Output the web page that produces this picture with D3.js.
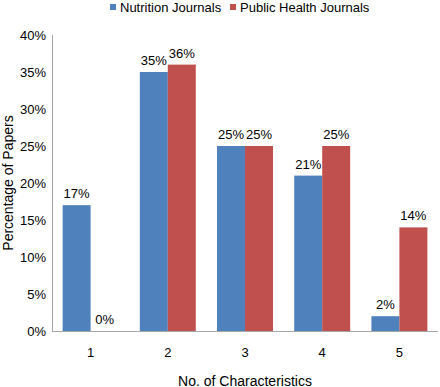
<!DOCTYPE html>
<html>
<head>
<meta charset="utf-8">
<script src="https://cdn.jsdelivr.net/npm/d3@7"></script>
<style>
  body { margin: 0; background: #fff; }
  text { font-family: "Liberation Sans", Arial, sans-serif; fill: #000; }
</style>
</head>
<body>
<div id="wrapper"></div>
<script>
  // DATA
  const categories = ["1", "2", "3", "4", "5"]
  const seriesNames = ["Nutrition Journals", "Public Health Journals"]
  const nutrition = [17, 35, 25, 21, 2]
  const publicHealth = [0, 36, 25, 25, 14]
  const yTicks = [0, 5, 10, 15, 20, 25, 30, 35, 40]
  const colors = ["#4F81BD", "#C0504D"]

  const dataset = categories.map((c, i) => ({ cat: c, values: [nutrition[i], publicHealth[i]] }))

  // DIMENSIONS
  let dimensions = {
    width: 440,
    height: 387,
    margin: { top: 35, right: 2, bottom: 56, left: 52 }
  }
  dimensions.boundedWidth = dimensions.width - dimensions.margin.left - dimensions.margin.right
  dimensions.boundedHeight = dimensions.height - dimensions.margin.top - dimensions.margin.bottom

  const wrapper = d3.select("#wrapper").append("svg")
    .attr("width", dimensions.width)
    .attr("height", dimensions.height)

  const bounds = wrapper.append("g")
    .attr("transform", `translate(${dimensions.margin.left},${dimensions.margin.top})`)

  // SCALES
  const xScale = d3.scaleBand()
    .domain(categories)
    .range([0, dimensions.boundedWidth])
    .paddingInner(0.275)
    .paddingOuter(0.1375)

  const xSub = d3.scaleBand()
    .domain([0, 1])
    .range([0, xScale.bandwidth()])

  const yScale = d3.scaleLinear()
    .domain([0, 40])
    .range([dimensions.boundedHeight, 0])

  // AXES
  const yAxis = bounds.append("g")
    .call(d3.axisLeft(yScale).tickValues(yTicks).tickSize(0).tickPadding(6).tickFormat(d => d + "%"))
  yAxis.select(".domain").attr("stroke", "#a6a6a6").attr("d", `M0.5,0V${dimensions.boundedHeight}`)
  yAxis.selectAll(".tick text").style("font-size", "13px").attr("fill", "#000")

  const xAxis = bounds.append("g")
    .attr("transform", `translate(0,${dimensions.boundedHeight})`)
    .call(d3.axisBottom(xScale).tickSize(0).tickPadding(17))
  xAxis.select(".domain").attr("stroke", "#a6a6a6").attr("d", `M0,0.5H${dimensions.boundedWidth}`)
  xAxis.selectAll(".tick text").style("font-size", "13px").attr("fill", "#000")

  // BARS
  const groups = bounds.selectAll(".grp").data(dataset).enter().append("g")
    .attr("transform", d => `translate(${xScale(d.cat)},0)`)

  groups.selectAll("rect").data(d => d.values).enter().append("rect")
    .attr("x", (d, i) => xSub(i))
    .attr("width", xSub.bandwidth())
    .attr("y", d => yScale(d))
    .attr("height", d => dimensions.boundedHeight - yScale(d))
    .attr("fill", (d, i) => colors[i])

  groups.selectAll(".lbl").data(d => d.values).enter().append("text")
    .attr("x", (d, i) => xSub(i) + xSub.bandwidth() / 2)
    .attr("y", d => yScale(d) - 7)
    .attr("text-anchor", "middle")
    .style("font-size", "13px")
    .text(d => d + "%")

  // LABELS
  wrapper.append("text")
    .attr("transform", `translate(13,${dimensions.margin.top + dimensions.boundedHeight / 2}) rotate(-90)`)
    .attr("text-anchor", "middle")
    .style("font-size", "14px")
    .text("Percentage of Papers")

  wrapper.append("text")
    .attr("x", dimensions.margin.left + dimensions.boundedWidth / 2)
    .attr("y", 386)
    .attr("text-anchor", "middle")
    .style("font-size", "14px")
    .text("No. of Characteristics")

  // LEGEND
  const legendX = [110, 230]
  const legend = wrapper.selectAll(".leg").data(seriesNames).enter().append("g")
    .attr("transform", (d, i) => `translate(${legendX[i]},0)`)
  legend.append("rect")
    .attr("x", 0).attr("y", 4).attr("width", 6).attr("height", 6)
    .attr("fill", (d, i) => colors[i])
  legend.append("text")
    .attr("x", 10).attr("y", 12)
    .style("font-size", "13px")
    .text(d => d)
</script>
</body>
</html>
